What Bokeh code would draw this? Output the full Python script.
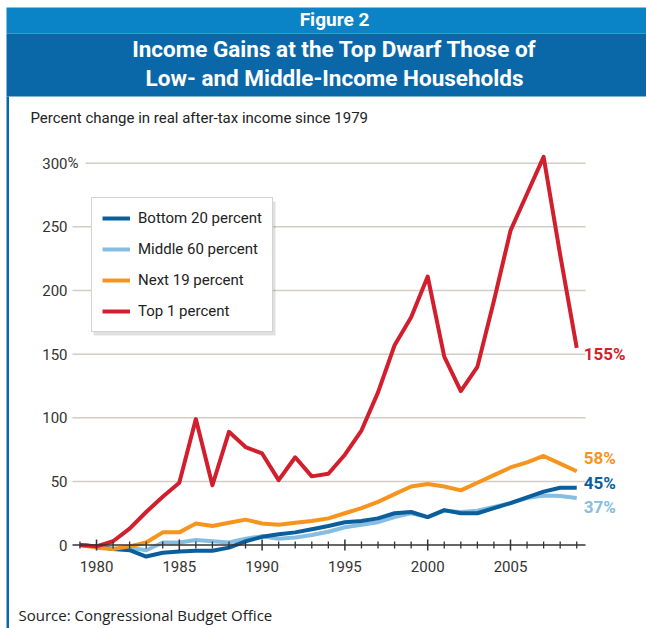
from bokeh.plotting import figure
from bokeh.models import Range1d, Legend, LegendItem
from bokeh.core.properties import value
from bokeh.embed import file_html
from bokeh.resources import INLINE

# ---------------- data ----------------
years = list(range(1979, 2010))
bottom20 = [0, -1, -3, -4, -9, -6, -5, -4.5, -4.5, -2, 3, 6.5, 8.5, 10, 12.5, 15, 18, 19, 21, 25,
            26, 22, 27.5, 25, 25, 29, 33, 37.5, 42, 45, 45]
middle60 = [0, -1, -3, -2, -4, 2, 2, 4, 3, 2, 5, 7, 5, 6, 8, 10.5, 14, 16, 18, 22,
            25, 22, 27, 26, 27, 30, 33, 37, 39, 38.5, 37]
next19 = [0, -2, -3, -1, 2, 10, 10, 17, 15, 17.5, 20, 17, 16, 17.5, 19, 21, 25, 29, 34, 40,
          46, 48, 46, 43, 49, 55, 61, 65, 70, 64, 58]
top1 = [0, -1, 3, 13, 26, 38, 49, 99, 47, 89, 77, 72, 51, 69, 54, 56, 71, 90, 120, 157,
        179, 211, 148, 121, 140, 192, 247, 276, 305, 228, 155]
series_names = ["Bottom 20 percent", "Middle 60 percent", "Next 19 percent", "Top 1 percent"]
end_labels = ["45%", "37%", "58%", "155%"]
y_ticks = [0, 50, 100, 150, 200, 250, 300]
y_tick_labels = ["0", "50", "100", "150", "200", "250", "300"]
x_ticks = [1980, 1985, 1990, 1995, 2000, 2005]
x_tick_labels = ["1980", "1985", "1990", "1995", "2000", "2005"]

# ---------------- styling ----------------
C_B20 = "#0b5e9c"
C_M60 = "#86bde0"
C_N19 = "#f7941d"
C_T1 = "#d21f2e"
BAND1 = "#0a84c6"
BAND2 = "#0a68a8"
FONT = "Roboto"
W, H = 646, 628

# pixel -> data helpers
def X(sx):
    return 1980 + (sx - 96) / 16.56

def Y(sy):
    return (544.6 - sy) / 1.273

p = figure(width=W, height=H, output_backend="svg", toolbar_location=None,
           x_axis_type=None, y_axis_type=None,
           x_range=Range1d(X(0), X(W)), y_range=Range1d(Y(H), Y(0)),
           min_border=0, min_border_left=0, min_border_right=0,
           min_border_top=0, min_border_bottom=0)
p.outline_line_color = None
p.background_fill_color = "white"
p.border_fill_color = "white"
p.xgrid.visible = False
p.ygrid.visible = False

# banner
p.quad(left=[X(6)], right=[X(W)], top=[Y(7)], bottom=[Y(33)], fill_color=BAND1, line_color=None)
p.quad(left=[X(6)], right=[X(W)], top=[Y(33)], bottom=[Y(96)], fill_color=BAND2, line_color=None)
# left border line
p.quad(left=[X(6)], right=[X(8.5)], top=[Y(96)], bottom=[Y(H)], fill_color=BAND2, line_color=None)

p.text(x=[X(334)], y=[Y(19)], text=["Figure 2"], text_font=value(FONT), text_font_size="19px",
       text_font_style="bold", text_color="white", text_align="center", text_baseline="middle")
p.text(x=[X(334), X(334)], y=[Y(48), Y(77)],
       text=["Income Gains at the Top Dwarf Those of", "Low- and Middle-Income Households"],
       text_font=value(FONT), text_font_size="22.5px", text_font_style="bold",
       text_color="white", text_align="center", text_baseline="middle")
p.text(x=[X(30)], y=[Y(117)], text=["Percent change in real after-tax income since 1979"],
       text_font=value(FONT), text_font_size="15px", text_color="#222222",
       text_align="left", text_baseline="middle")
p.text(x=[X(18)], y=[Y(614)], text=["Source: Congressional Budget Office"],
       text_font=value("Open Sans"), text_font_size="15px", text_color="#222222",
       text_align="left", text_baseline="middle")

# gridlines
grid_y = [t for t in y_ticks if t > 0]
grid_x0 = [X(85) if t == max(y_ticks) else X(72) for t in grid_y]
p.segment(x0=grid_x0, y0=grid_y, x1=[X(585)] * len(grid_y), y1=grid_y,
          line_color="#d2cdc6", line_width=1.5)

# y tick labels
p.text(x=[X(67)] * len(y_ticks), y=y_ticks, text=y_tick_labels, text_font=value(FONT),
       text_font_size="15px", text_color="#333333", text_align="right", text_baseline="middle")
p.text(x=[X(67)], y=[max(y_ticks)], text=["%"], text_font=value(FONT),
       text_font_size="15px", text_color="#333333", text_align="left", text_baseline="middle")

# legend shadow
p.quad(left=[X(93)], right=[X(275)], top=[Y(201)], bottom=[Y(335)],
       fill_color="#000000", fill_alpha=0.12, line_color=None)

# series lines
r_m60 = p.line(years, middle60, line_color=C_M60, line_width=4, line_join="round")
r_b20 = p.line(years, bottom20, line_color=C_B20, line_width=4, line_join="round")
r_n19 = p.line(years, next19, line_color=C_N19, line_width=4, line_join="round")
r_t1 = p.line(years, top1, line_color=C_T1, line_width=4, line_join="round")

# zero axis with ticks
p.segment(x0=[X(72)], y0=[0], x1=[X(585)], y1=[0], line_color="#333333", line_width=1.5)
minor = [yr for yr in years if yr not in x_ticks]
p.segment(x0=minor, y0=[Y(541)] * len(minor), x1=minor, y1=[Y(548)] * len(minor),
          line_color="#333333", line_width=1.3)
p.segment(x0=x_ticks, y0=[Y(539)] * len(x_ticks), x1=x_ticks, y1=[Y(550)] * len(x_ticks),
          line_color="#333333", line_width=1.5)
p.text(x=x_ticks, y=[Y(566)] * len(x_ticks), text=x_tick_labels, text_font=value(FONT),
       text_font_size="15px", text_color="#333333", text_align="center", text_baseline="middle")

# end labels
last = years[-1]
end_vals = [bottom20[-1], middle60[-1], next19[-1], top1[-1]]
end_cols = [C_B20, C_M60, C_N19, C_T1]
end_dy = [-5, 9.5, -13, 6]
for lab, v, c, dy in zip(end_labels, end_vals, end_cols, end_dy):
    p.text(x=[last], y=[v], text=[lab], x_offset=7, y_offset=dy, text_font=value(FONT),
           text_font_size="17px", text_font_style="bold", text_color=c,
           text_align="left", text_baseline="middle")

# legend
legend = Legend(items=[LegendItem(label=series_names[0], renderers=[r_b20]),
                       LegendItem(label=series_names[1], renderers=[r_m60]),
                       LegendItem(label=series_names[2], renderers=[r_n19]),
                       LegendItem(label=series_names[3], renderers=[r_t1])],
                location=(91, 296), orientation="vertical",
                label_text_font=FONT, label_text_font_size="15px", label_text_color="#222222",
                glyph_width=28, glyph_height=20, label_height=20, label_standoff=8,
                spacing=11, padding=10, margin=0,
                border_line_color="#a8a8a8", border_line_width=1.2,
                background_fill_color="white", background_fill_alpha=1.0)
p.add_layout(legend, "center")

open("out.html", "w").write(file_html(p, INLINE))
